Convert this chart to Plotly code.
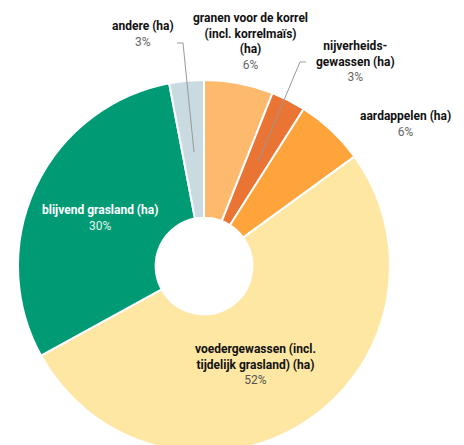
import plotly.graph_objects as go

# crop areas, share of total (%), clockwise from 12 o'clock
labels = [
    "granen voor de korrel<br>(incl. korrelmaïs)<br>(ha)",
    "nijverheids-<br>gewassen (ha)",
    "aardappelen (ha)",
    "voedergewassen (incl.<br>tijdelijk grasland) (ha)",
    "blijvend grasland (ha)",
    "andere (ha)",
]
values = [6, 3, 6, 52, 30, 3]
colors = ["#FDBA6C", "#EA7434", "#FFA33B", "#FEE6A3", "#009B74", "#C9DAE1"]

FONT = "Roboto, Arial, sans-serif"
W, H = 464, 445
OFF = 8  # page body margin in the browser

fig = go.Figure()
fig.add_trace(go.Pie(
    labels=[l.replace("<br>", " ") for l in labels],
    values=values,
    marker=dict(colors=colors, line=dict(color="white", width=2)),
    hole=0.26,
    sort=False,
    direction="clockwise",
    rotation=0,
    textinfo="none",
    showlegend=False,
    domain=dict(x=[10 / W, 382 / W], y=[1 / H, 373 / H]),
))

# label placement (screen pixel centres) and text colours per slice
label_pos = [(250, 41), (355, 61), (405, 124), (256, 364), (100, 218), (143, 34)]
label_col = ["#111", "#111", "#111", "#111", "white", "#111"]
pct_col = ["#666", "#666", "#666", "#555", "#E8F4EE", "#666"]

annotations = []
for lab, val, (px, py), c1, c2 in zip(labels, values, label_pos, label_col, pct_col):
    annotations.append(dict(
        x=(px - OFF) / W, y=1 - (py - OFF) / H, xref="paper", yref="paper",
        xanchor="center", yanchor="middle", showarrow=False,
        text=f"<b>{lab}</b><br><span style='color:{c2}'>{val}%</span>",
        font=dict(family=FONT, size=12, color=c1),
        align="center",
    ))

# leader lines for the narrow slices
def px_line(pts):
    path = "M " + " L ".join(f"{(x - OFF) / W},{1 - (y - OFF) / H}" for x, y in pts)
    return dict(type="path", path=path, xref="paper", yref="paper",
                line=dict(color="#999", width=1))

shapes = [
    px_line([(177, 43), (183, 43), (194, 152)]),
    px_line([(306, 62), (300, 62), (258, 162)]),
]

fig.update_layout(
    width=W, height=H,
    margin=dict(l=0, r=0, t=0, b=0),
    paper_bgcolor="white",
    annotations=annotations,
    shapes=shapes,
)

fig.write_html("out.html")
